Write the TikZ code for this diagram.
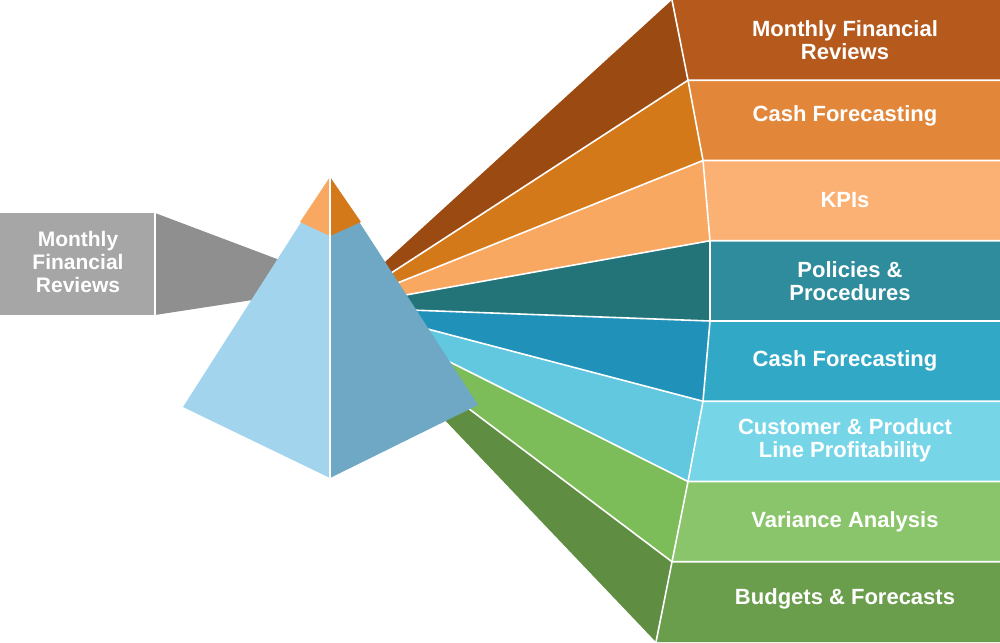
\documentclass[tikz,border=0pt]{standalone}
\usepackage{fontspec}
\setmainfont{Liberation Sans}
\begin{document}
\begin{tikzpicture}[x=1pt,y=-1pt,
  sep/.style={draw=white,line width=1.6pt,line join=round},
  lbl/.style={text=white,font=\fontsize{22}{23}\selectfont\bfseries,align=center}]
\useasboundingbox (0,0) rectangle (1000,642);
% colours
\definecolor{b0}{HTML}{9B4A12}\definecolor{b1}{HTML}{D4791A}\definecolor{b2}{HTML}{F9A862}\definecolor{b3}{HTML}{237478}
\definecolor{b4}{HTML}{2092B9}\definecolor{b5}{HTML}{62C8E0}\definecolor{b6}{HTML}{7DBD59}\definecolor{b7}{HTML}{5F8E42}
\definecolor{r0}{HTML}{B55A1C}\definecolor{r1}{HTML}{E2873A}\definecolor{r2}{HTML}{FBB074}\definecolor{r3}{HTML}{2E8C9C}
\definecolor{r4}{HTML}{31A9C6}\definecolor{r5}{HTML}{76D6E8}\definecolor{r6}{HTML}{8BC56B}\definecolor{r7}{HTML}{6A9E4C}
% start points (behind pyramid) and box edge points
\foreach \i/\x/\y in {0/385/262,1/385/277,2/390/286,3/400/296,4/410/310,5/420/327,6/430/352,7/440/387,8/440/415}
  \coordinate (s\i) at (\x,\y);
\foreach \i/\x in {0/672,1/688,2/703,3/710,4/710,5/703,6/688,7/672,8/656}
  {\coordinate (e\i) at (\x,{80.25*\i}); \coordinate (f\i) at (1000,{80.25*\i});}
% gray input beam
\fill[fill=black!44] (155,213) -- (285,262) -- (285,295) -- (155,315) -- cycle;
\fill[black!35] (0,213) rectangle (155,315);
\draw[sep] (155,213) -- (155,315);
\node[lbl,font=\fontsize{21}{23}\selectfont\bfseries] (in) at (78,262) {Monthly\\Financial\\Reviews};
% beams and boxes
\foreach \i/\j in {0/1,1/2,2/3,3/4,4/5,5/6,6/7,7/8}{
  \fill[b\i] (s\i) -- (e\i) -- (e\j) -- (s\j) -- cycle;
  \fill[r\i] (e\i) -- (f\i) -- (f\j) -- (e\j) -- cycle;
}
\foreach \i/\j in {0/1,1/2,2/3,3/4,4/5,5/6,6/7,7/8} \draw[sep] (e\i) -- (e\j);
\foreach \i in {1,...,7} \draw[sep] (s\i) -- (e\i) -- (f\i);
% pyramid
\coordinate (apex) at (330,177); \coordinate (L) at (183,407); \coordinate (R) at (478,405);
\coordinate (B) at (330,478); \coordinate (cl) at (300,222); \coordinate (cr) at (361,222); \coordinate (cc) at (330,236);
\fill[fill={rgb,255:red,163;green,212;blue,238}] (apex) -- (L) -- (B) -- cycle;
\fill[fill={rgb,255:red,111;green,168;blue,197}] (apex) -- (R) -- (B) -- cycle;
\fill[b2] (apex) -- (cl) -- (cc) -- cycle;
\fill[b1] (apex) -- (cr) -- (cc) -- cycle;
\draw[white,line width=2pt] (apex) -- (B);
% labels
\node[lbl] (t0) at (845,40) {Monthly Financial\\Reviews};
\node[lbl] (t1) at (845,116) {Cash Forecasting};
\node[lbl] (t2) at (845,200) {KPIs};
\node[lbl] (t3) at (850,281) {Policies \&\\Procedures};
\node[lbl] (t4) at (845,361) {Cash Forecasting};
\node[lbl] (t5) at (845,440) {Customer \& Product\\Line Profitability};
\node[lbl] (t6) at (845,522) {Variance Analysis};
\node[lbl] (t7) at (845,599) {Budgets \& Forecasts};
\end{tikzpicture}
\end{document}
